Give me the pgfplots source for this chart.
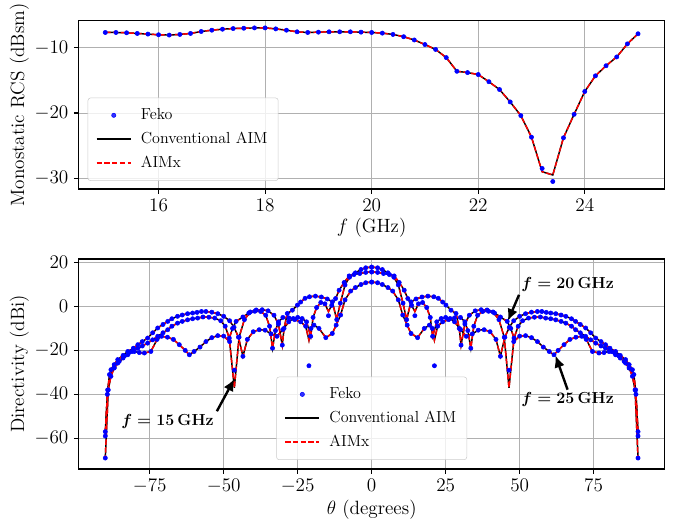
\documentclass[12pt,border=0pt]{standalone}
\usepackage{pgfplots}
\usepackage{pgfplotstable}
\pgfplotsset{compat=1.18}
\usetikzlibrary{arrows.meta}
\definecolor{gridc}{HTML}{B0B0B0}
\definecolor{legc}{HTML}{CCCCCC}

\pgfplotstableread{
f fe ln
15.0 -7.65 -7.65
15.2 -7.65 -7.65
15.4 -7.70 -7.70
15.6 -7.80 -7.80
15.8 -7.90 -7.90
16.0 -8.00 -8.00
16.2 -8.05 -8.05
16.4 -7.95 -7.95
16.6 -7.80 -7.80
16.8 -7.50 -7.50
17.0 -7.30 -7.30
17.2 -7.15 -7.15
17.4 -7.05 -7.05
17.6 -7.00 -7.00
17.8 -6.95 -6.95
18.0 -6.95 -6.95
18.2 -7.10 -7.10
18.4 -7.30 -7.30
18.6 -7.55 -7.55
18.8 -7.65 -7.65
19.0 -7.60 -7.60
19.2 -7.55 -7.55
19.4 -7.55 -7.55
19.6 -7.55 -7.55
19.8 -7.60 -7.60
20.0 -7.65 -7.65
20.2 -7.75 -7.75
20.4 -7.95 -7.95
20.6 -8.30 -8.30
20.8 -8.80 -8.80
21.0 -9.50 -9.50
21.2 -10.25 -10.25
21.4 -11.50 -11.50
21.6 -13.60 -13.60
21.8 -13.80 -13.80
22.0 -14.10 -14.10
22.2 -15.20 -15.20
22.4 -16.40 -16.40
22.6 -18.30 -18.30
22.8 -20.40 -20.40
23.0 -23.70 -23.70
23.2 -28.50 -29.00
23.4 -30.50 -29.50
23.6 -23.80 -23.80
23.8 -20.20 -20.20
24.0 -16.70 -16.70
24.2 -14.30 -14.30
24.4 -12.75 -12.75
24.6 -11.40 -11.40
24.8 -9.40 -9.40
25.0 -7.85 -7.85
}\rcs

% curve A
\pgfplotstableread{
t l f
0 17.9 17.9
2 17.6 17.6
3.6 16.8 16.8
5.5 15.3 15.3
7.5 13.3 13.3
9 9.8 9.8
10.6 1.5 1.5
11.8 -6.0 -6.0
13.3 2.1 2.1
15 3.4 3.4
17 4.3 4.3
19 4.7 4.7
21 4.4 4.4
22.5 3.7 3.7
24 2.0 2.0
25.1 0.6 0.6
26.8 -1.7 -1.7
28.5 -3.2 -3.2
29.6 -10 -10
30.2 -17.6 -17.6
31.5 -8 -8
33 -4 -4
35 -2 -2
37 -1.5 -1.5
39 -1.6 -1.6
41 -2.5 -2.5
43 -6 -6
44.8 -14 -14
46.4 -37 -29
48 -16 -16
50 -13.5 -13.5
52 -13.3 -13.3
54 -14.2 -14.2
56 -16 -16
58 -18.5 -18.5
60 -20.5 -20.5
61.6 -22 -22
63 -20 -20
65 -17.4 -17.4
67 -15 -15
69 -14 -14
71 -13.6 -13.6
72.5 -15 -15
74.6 -20.5 -20.5
76.8 -21.2 -21.2
78.5 -21 -21
80.2 -20.5 -20.5
82 -21 -21
83.5 -22.5 -22.5
85.3 -25 -25
87 -28 -28
88.1 -31.8 -31.8
89 -38 -38
90 -69 -69
}\cA

% curve B
\pgfplotstableread{
t l f
0 15.7 15.7
2 15.5 15.5
4 15.0 15.0
6 14.5 14.5
7.6 13.9 13.9
9.3 10.9 10.9
11 7.4 7.4
12.2 3.6 3.6
13.5 0.5 0.5
14.6 -2.3 -4.2
15.8 1.2 1.2
17.2 1.8 1.8
18.6 -0.5 -0.5
19.8 -5 -5
20.6 -13.6 -13.6
22 -7 -7
23.5 -5.5 -5.5
25 -5 -5
26.5 -5.5 -5.5
28 -7 -7
30 -10.5 -10.5
32 -13.6 -13.6
34 -12.5 -12.5
36 -10.8 -10.8
38 -10.6 -10.6
40 -11.5 -11.5
42 -15 -15
43.5 -22.7 -22.7
45 -14 -14
46.5 -9.5 -9.5
48 -6.5 -6.5
50 -4.5 -4.5
52 -3.3 -3.3
54 -2.6 -2.6
56 -2.3 -2.3
57.5 -2.3 -2.3
59 -2.7 -2.7
60.5 -3 -3
62.2 -3.3 -3.3
64 -3.9 -3.9
65.6 -4.5 -4.5
67.5 -5.6 -5.6
68.9 -6.8 -6.8
70.5 -8.2 -8.2
72.3 -9.8 -9.8
74 -12 -12
75.7 -14.4 -14.4
77.5 -16 -16
79 -17.4 -17.4
80.5 -19 -19
82.4 -20.5 -20.5
84 -22.3 -22.3
85.8 -24.2 -24.2
87 -26.5 -26.5
88.1 -28.8 -28.8
89.2 -38 -38
90 -57 -57
}\cB

% curve C
\pgfplotstableread{
t l f
0 11.1 11.1
2 10.8 10.8
3.6 10.0 10.0
5.5 8.6 8.6
7.1 7.0 7.0
9 3.0 3.0
10.5 -3.9 -3.9
12 -8.5 -8.5
13.3 -12.3 -12.3
15.5 -14.2 -14.2
17.8 -10 -10
19.5 -8.5 -8.5
20.5 -10 -10
21.2 -15.3 -27
22.3 -9 -9
24 -7 -7
26 -6 -6
28 -5.2 -5.2
30 -5 -5
31.5 -7 -7
32.5 -11 -11
33.5 -19 -19
34.5 -9 -9
35.8 -4 -4
37.5 -2.3 -2.3
39.5 -2.2 -2.2
41.5 -3 -3
43.5 -4.8 -4.8
45.8 -6.8 -6.8
47 -10 -10
48.1 -14.4 -14.4
49.5 -9 -9
51 -6.5 -6.5
53 -5.3 -5.3
55 -4.9 -4.9
57 -4.8 -4.8
58.8 -5.3 -5.3
60.5 -5.6 -5.6
62.2 -6.1 -6.1
64 -6.8 -6.8
65.6 -7.6 -7.6
67.5 -9 -9
68.9 -10.6 -10.6
70.5 -12 -12
72.3 -13.6 -13.6
74 -15.2 -15.2
75.7 -16.7 -16.7
77.5 -18 -18
79 -19 -19
81 -20.5 -20.5
82.4 -22 -22
84 -23.5 -23.5
85.8 -25.8 -25.8
87 -28 -28
88.6 -31 -31
89.3 -40 -40
90 -59 -59
}\cC

\pgfplotsset{
  base/.style={scale only axis, width=439.5pt,
    grid=major, major grid style={gridc, line width=0.6pt},
    axis line style={line width=0.8pt},
    tick align=outside, major tick length=3.5pt,
    every tick/.style={black, line width=0.8pt},
    tick pos=left,
    tick label style={font=\large},
    label style={font=\large},
    xlabel shift=-3pt, ylabel shift=-4pt,
    legend cell align=left,
    legend style={draw=legc, rounded corners=2pt, fill=white, fill opacity=0.8,
      text opacity=1, draw opacity=1, row sep=3.6pt, inner xsep=6pt, inner ysep=6pt,
      /tikz/every odd column/.style={column sep=5pt}}},
  feko/.style={only marks, mark=*, mark size=1.6pt, color=blue, mark options={draw=blue, fill=blue}},
  conv/.style={black, line width=1.1pt},
  aimx/.style={red, line width=1.1pt, dash pattern=on 4pt off 1.8pt},
  dotleg/.style={legend image code/.code={\draw[mark repeat=2,mark phase=2,##1] plot coordinates {(0cm,0cm) (0.45cm,0cm) (0.9cm,0cm)};}},
  lineleg/.style={legend image code/.code={\draw[##1] (0cm,0cm) -- (0.9cm,0cm);}},
}

\begin{document}
\begin{tikzpicture}
\path[use as bounding box] (-59pt,-36.75pt) rectangle (446.5pt,351.75pt);
\begin{axis}[base, at={(0pt,210pt)}, anchor=south west, height=126.2pt,
  xmin=14.5, xmax=25.5, ymin=-31.65, ymax=-5.85,
  xtick={16,18,20,22,24}, ytick={-30,-20,-10},
  xlabel={$f$ (GHz)}, ylabel={Monostatic RCS (dBsm)},
  legend style={at={(0.0154,0.048)}, anchor=south west}]
\addplot[feko, dotleg] table[x=f, y=fe] {\rcs}; \addlegendentry{Feko}
\addplot[conv, lineleg] table[x=f, y=ln] {\rcs}; \addlegendentry{Conventional AIM}
\addplot[aimx, lineleg] table[x=f, y=ln] {\rcs}; \addlegendentry{AIMx}
\end{axis}

\begin{axis}[base, at={(0pt,0pt)}, anchor=south west, height=157.5pt,
  xmin=-99, xmax=99, ymin=-74, ymax=21.6,
  xtick={-75,-50,-25,0,25,50,75}, ytick={-60,-40,-20,0,20},
  xlabel={$\theta$ (degrees)}, ylabel={Directivity (dBi)},
  legend style={at={(0.5,0.043)}, anchor=south}]
\addplot[feko, dotleg] table[x=t, y=f] {\cA}; \addlegendentry{Feko}
\addplot[feko, forget plot] table[x expr=-\thisrow{t}, y=f] {\cA};
\addplot[feko, forget plot] table[x=t, y=f] {\cB};
\addplot[feko, forget plot] table[x expr=-\thisrow{t}, y=f] {\cB};
\addplot[feko, forget plot] table[x=t, y=f] {\cC};
\addplot[feko, forget plot] table[x expr=-\thisrow{t}, y=f] {\cC};
\addplot[conv, lineleg] table[x=t, y=l] {\cA}; \addlegendentry{Conventional AIM}
\addplot[conv, forget plot] table[x expr=-\thisrow{t}, y=l] {\cA};
\addplot[conv, forget plot] table[x=t, y=l] {\cB};
\addplot[conv, forget plot] table[x expr=-\thisrow{t}, y=l] {\cB};
\addplot[conv, forget plot] table[x=t, y=l] {\cC};
\addplot[conv, forget plot] table[x expr=-\thisrow{t}, y=l] {\cC};
\addplot[aimx, lineleg] table[x=t, y=l] {\cA}; \addlegendentry{AIMx}
\addplot[aimx, forget plot] table[x expr=-\thisrow{t}, y=l] {\cA};
\addplot[aimx, forget plot] table[x=t, y=l] {\cB};
\addplot[aimx, forget plot] table[x expr=-\thisrow{t}, y=l] {\cB};
\addplot[aimx, forget plot] table[x=t, y=l] {\cC};
\addplot[aimx, forget plot] table[x expr=-\thisrow{t}, y=l] {\cC};

\draw[-{Latex[length=9pt,width=8pt]}, line width=1.8pt] (axis cs:-52.3,-47.7) -- (axis cs:-46.4,-33);
\draw[-{Latex[length=9pt,width=8pt]}, line width=1.8pt] (axis cs:49.8,5.3) -- (axis cs:46,-6.6);
\draw[-{Latex[length=9pt,width=8pt]}, line width=1.8pt] (axis cs:66.2,-37.9) -- (axis cs:62.1,-22.3);
\node[font=\bfseries\boldmath] at (axis cs:-69,-52.3) {$f=15\,\mathrm{GHz}$};
\node[font=\bfseries\boldmath] at (axis cs:66.2,10.1) {$f=20\,\mathrm{GHz}$};
\node[font=\bfseries\boldmath] at (axis cs:66.2,-42.4) {$f=25\,\mathrm{GHz}$};
\end{axis}
\end{tikzpicture}
\end{document}
